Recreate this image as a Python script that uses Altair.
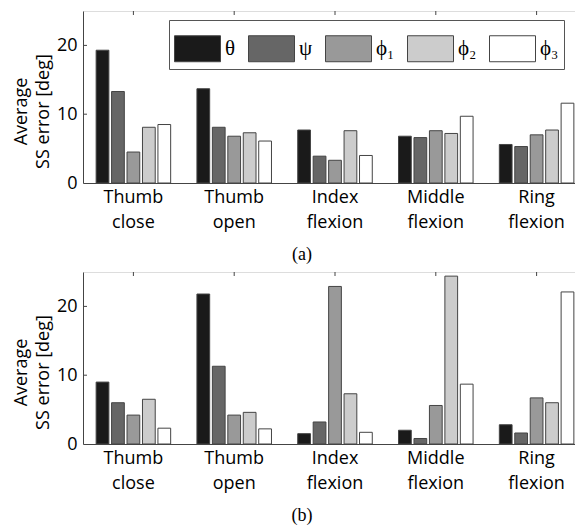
import altair as alt
import pandas as pd

categories = ["Thumb close", "Thumb open", "Index flexion", "Middle flexion", "Ring flexion"]
series = ["θ", "ψ", "ϕ₁", "ϕ₂", "ϕ₃"]
colors = ["#1a1a1a", "#666666", "#999999", "#cccccc", "#ffffff"]

# panel (a)
a_theta = [19.3, 13.7, 7.7, 6.8, 5.6]
a_psi = [13.3, 8.1, 3.9, 6.6, 5.3]
a_phi1 = [4.5, 6.8, 3.3, 7.6, 7.0]
a_phi2 = [8.1, 7.3, 7.6, 7.2, 7.7]
a_phi3 = [8.5, 6.1, 4.0, 9.7, 11.6]

# panel (b)
b_theta = [9.0, 21.8, 1.5, 2.0, 2.8]
b_psi = [6.0, 11.3, 3.2, 0.8, 1.6]
b_phi1 = [4.2, 4.2, 22.9, 5.6, 6.7]
b_phi2 = [6.5, 4.6, 7.3, 24.4, 6.0]
b_phi3 = [2.3, 2.2, 1.7, 8.7, 22.1]

y_ticks = [0, 10, 20]
y_max = 25

W = 504
H = 172
EDGE = "#444444"
SANS = "Open Sans"
SERIF = "Liberation Serif"


def make_df(cols):
    rows = []
    for s, vals in zip(series, cols):
        for c, v in zip(categories, vals):
            rows.append({"cat": c, "series": s, "val": v})
    return pd.DataFrame(rows)


def panel(df, caption, show_legend):
    if show_legend:
        legend = alt.Legend(
            orient="none", legendX=86, legendY=9, direction="horizontal",
            columns=5, title=None,
            symbolType="M-1,-0.565H1V0.565H-1Z", symbolSize=2116,
            symbolStrokeColor=EDGE, symbolStrokeWidth=1, symbolOpacity=1,
            labelFont=SERIF, labelFontSize=21, labelColor="black",
            labelOffset=4, columnPadding=10, padding=5,
            strokeColor="#555555", fillColor="white",
        )
    else:
        legend = None
    bars = alt.Chart(df).mark_bar(stroke=EDGE, strokeWidth=1, opacity=1).encode(
        x=alt.X("cat:N", sort=categories, title=None,
                scale=alt.Scale(paddingInner=0, paddingOuter=0),
                axis=alt.Axis(labelExpr="split(datum.label, ' ')", labelAngle=0,
                              ticks=False, labelPadding=5, labelLineHeight=25.5,
                              labelFont=SANS, labelFontSize=18, labelColor="black",
                              domainColor=EDGE)),
        xOffset=alt.XOffset("series:N", sort=series,
                            scale=alt.Scale(paddingInner=0.175, paddingOuter=0.85)),
        y=alt.Y("val:Q", scale=alt.Scale(domain=[0, y_max], nice=False),
                title=["Average", "SS error [deg]"],
                axis=alt.Axis(values=y_ticks, ticks=False, grid=False, labelPadding=6,
                              labelFont=SANS, labelFontSize=18, labelColor="black",
                              titleFont=SANS, titleFontSize=18, titleFontWeight="normal",
                              titleColor="black", titlePadding=4, titleLineHeight=22,
                              titleY=100, domainColor=EDGE)),
        color=alt.Color("series:N", sort=series,
                        scale=alt.Scale(domain=series, range=colors), legend=legend),
    )
    tick_df = pd.DataFrame({"v": y_ticks[1:]})
    cat_df = pd.DataFrame({"cat": categories})
    top_ticks = alt.Chart(cat_df).mark_rule(color=EDGE, strokeWidth=1).encode(
        x=alt.X("cat:N", sort=categories), y=alt.value(0), y2=alt.value(4))
    left_ticks = alt.Chart(tick_df).mark_rule(color=EDGE, strokeWidth=1).encode(
        y=alt.Y("v:Q"), x=alt.value(0), x2=alt.value(4))
    right_ticks = alt.Chart(tick_df).mark_rule(color=EDGE, strokeWidth=1).encode(
        y=alt.Y("v:Q"), x=alt.value(W - 5), x2=alt.value(W))
    return alt.layer(bars, top_ticks, left_ticks, right_ticks).properties(
        width=W, height=H,
        title=alt.TitleParams(caption, orient="bottom", font=SERIF, fontSize=18,
                              fontWeight="normal", color="black", anchor="middle",
                              dx=-33, offset=14),
    )


pa = panel(make_df([a_theta, a_psi, a_phi1, a_phi2, a_phi3]), "(a)", True)
pb = panel(make_df([b_theta, b_psi, b_phi1, b_phi2, b_phi3]), "(b)", False)

chart = alt.vconcat(pa, pb, spacing=7).resolve_scale(color="independent").properties(
    padding={"left": 3, "top": 2, "right": -13, "bottom": 0}
).configure_view(stroke=EDGE, strokeWidth=1).configure(background="white")

chart.save("out.html", embed_options={"renderer": "svg", "actions": False})
